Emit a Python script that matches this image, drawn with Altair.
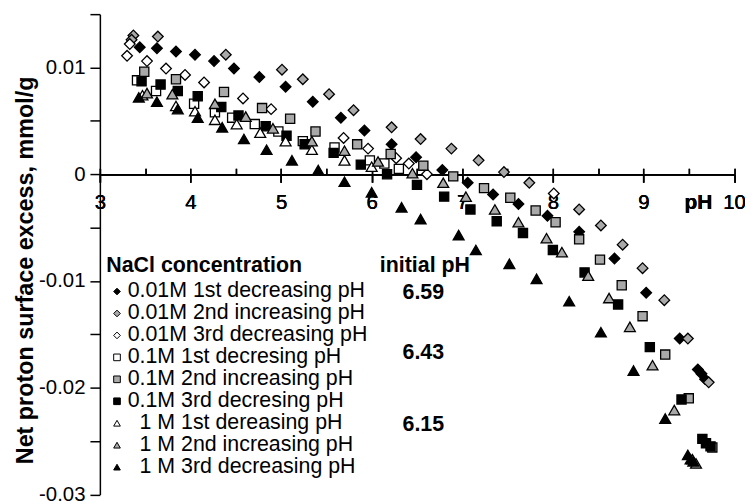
import altair as alt
import pandas as pd

FONT = "Liberation Sans"
IND = "\u200b\u00a0\u00a0"  # indent kept by a zero-width lead character

series_names = [
    "0.01M 1st decreasing pH",
    "0.01M 2nd increasing pH",
    "0.01M 3rd decreasing pH",
    "0.1M 1st decresing pH",
    "0.1M 2nd increasing pH",
    "0.1M 3rd decresing pH",
    IND + "1 M 1st dereasing pH",
    IND + "1 M 2nd increasing pH",
    IND + "1 M 3rd decreasing pH",
]

# 0.01M 1st decreasing (black diamond)
s1_ph = [3.44, 3.63, 3.84, 4.05, 4.26, 4.48, 4.76, 5.05, 5.35, 5.66, 5.92, 6.22, 6.49, 6.78, 7.06,
         7.34, 7.62, 7.94, 8.29, 8.68, 9.03, 9.40, 9.60, 9.64, 9.68]
s1_v = [0.0119, 0.0118, 0.0115, 0.0112, 0.0106, 0.0099, 0.0091, 0.0082, 0.0068, 0.0053, 0.0041, 0.0028,
        0.0016, 0.0004, -0.0008, -0.0019, -0.0028, -0.0039, -0.0054, -0.0079, -0.0111, -0.0154,
        -0.0183, -0.0187, -0.0192]
# 0.01M 2nd increasing (grey diamond)
s2_ph = [3.37, 3.35, 3.64, 4.39, 5.01, 5.24, 5.53, 5.80, 6.22, 6.54, 6.88, 7.18, 7.46, 7.74, 8.29,
         8.53, 8.77, 8.99, 9.23, 9.49, 9.72]
s2_v = [0.0130, 0.0126, 0.0129, 0.0112, 0.0098, 0.0089, 0.0075, 0.0060, 0.0044, 0.0033, 0.0024,
        0.0013, 0.0002, -0.0008, -0.0033, -0.0048, -0.0066, -0.0088, -0.0118, -0.0154, -0.0195]
# 0.01M 3rd decreasing (white diamond)
s3_ph = [3.33, 3.30, 3.52, 3.73, 3.94, 4.15, 4.58, 4.89, 5.69, 5.96, 6.27, 6.41, 6.61, 8.01]
s3_v = [0.0122, 0.0111, 0.0106, 0.0099, 0.0093, 0.0086, 0.0071, 0.0061, 0.0034, 0.0024, 0.0015,
        0.0010, 0.0000, -0.0018]
# 0.1M 1st decreasing (white square)
s4_ph = [3.41, 3.62, 4.04, 4.27, 4.46, 4.71, 4.97, 5.24, 5.59, 5.98, 6.14, 6.30]
s4_v = [0.0088, 0.0078, 0.0066, 0.0058, 0.0053, 0.0047, 0.0040, 0.0031, 0.0025, 0.0013, 0.0010, 0.0005]
# 0.1M 2nd increasing (grey square)
s5_ph = [3.49, 3.84, 4.37, 4.79, 5.10, 5.38, 5.84, 6.21, 6.57, 6.90, 7.24, 7.53, 7.81, 8.03, 8.29,
         8.52, 8.76, 8.99, 9.24, 9.50, 9.76]
s5_v = [0.0096, 0.0089, 0.0077, 0.0062, 0.0052, 0.0040, 0.0028, 0.0019, 0.0008, -0.0002, -0.0013,
        -0.0022, -0.0034, -0.0045, -0.0061, -0.0080, -0.0104, -0.0133, -0.0169, -0.0210, -0.0256]
# 0.1M 3rd decreasing (black square)
s6_ph = [3.46, 3.67, 3.86, 4.08, 4.34, 4.53, 4.83, 5.06, 5.26, 5.58, 5.88, 6.17, 6.50, 6.80, 7.09,
         7.38, 7.67, 8.00, 8.35, 8.72, 9.07, 9.42, 9.65, 9.69, 9.74]
s6_v = [0.0087, 0.0084, 0.0078, 0.0073, 0.0063, 0.0055, 0.0045, 0.0036, 0.0028, 0.0020, 0.0009,
        0.0000, -0.0010, -0.0021, -0.0033, -0.0044, -0.0055, -0.0071, -0.0092, -0.0122, -0.0162,
        -0.0211, -0.0248, -0.0252, -0.0255]
# 1 M 1st decreasing (white triangle)
s7_ph = [3.47, 3.84, 4.05, 4.27, 4.51, 4.77, 5.05, 5.34, 5.70, 6.00]
s7_v = [0.0074, 0.0064, 0.0059, 0.0051, 0.0047, 0.0039, 0.0031, 0.0023, 0.0013, 0.0007]
# 1 M 2nd increasing (grey triangle)
s8_ph = [3.52, 3.80, 4.27, 4.61, 4.91, 5.34, 5.70, 6.07, 6.45, 6.79, 7.04, 7.36, 7.62, 7.93, 8.10,
         8.39, 8.62, 8.85, 9.10, 9.34, 9.54, 9.58]
s8_v = [0.0076, 0.0075, 0.0066, 0.0054, 0.0043, 0.0031, 0.0022, 0.0012, 0.0001, -0.0008, -0.0021,
        -0.0033, -0.0045, -0.0060, -0.0073, -0.0095, -0.0116, -0.0143, -0.0179, -0.0221, -0.0267,
        -0.0271]
# 1 M 3rd decreasing (black triangle)
s9_ph = [3.43, 3.63, 3.86, 4.08, 4.35, 4.59, 4.84, 5.12, 5.41, 5.70, 6.00, 6.33, 6.54, 6.96, 7.15,
         7.52, 7.82, 8.18, 8.53, 8.89, 9.24, 9.49, 9.52, 9.55]
s9_v = [0.0072, 0.0068, 0.0061, 0.0053, 0.0044, 0.0033, 0.0023, 0.0013, 0.0004, -0.0007, -0.0017,
        -0.0031, -0.0042, -0.0057, -0.0071, -0.0084, -0.0098, -0.0119, -0.0148, -0.0184, -0.0229,
        -0.0263, -0.0267, -0.0269]

all_ph = [s1_ph, s2_ph, s3_ph, s4_ph, s5_ph, s6_ph, s7_ph, s8_ph, s9_ph]
all_v = [s1_v, s2_v, s3_v, s4_v, s5_v, s6_v, s7_v, s8_v, s9_v]
groups = ["d", "d", "d", "s", "s", "s", "t", "t", "t"]

# annotation column
init_header = "initial pH"
init_values = ["6.59", "6.43", "6.15"]
init_ph_pos = [6.57, 6.57, 6.57]
init_v_pos = [-0.0111, -0.0168, -0.0235]

# styles
shapes = ["diamond"] * 3 + ["square"] * 3 + ["triangle-up"] * 3
fills = ["black", "#a9a9a9", "white", "white", "#a9a9a9", "black", "white", "#a9a9a9", "black"]
group_sizes = {"d": 115, "s": 85, "t": 120}

rows = []
for name, g, phs, vs in zip(series_names, groups, all_ph, all_v):
    for p, v in zip(phs, vs):
        rows.append({"pH": p, "v": v, "series": name, "grp": g})
df = pd.DataFrame(rows)

W, H = 638.5, 483.5
YMIN, YMAX = -0.03, 0.015
zero_from_top = H * YMAX / (YMAX - YMIN)

xscale = alt.Scale(domain=[3, 10], nice=False, zero=False)
yscale = alt.Scale(domain=[YMIN, YMAX], nice=False, zero=False)

y_ticks = [-0.03, -0.025, -0.02, -0.015, -0.01, -0.005, 0, 0.005, 0.01, 0.015]
x_major = [3, 4, 5, 6, 7, 8, 9, 10]
x_minor = [3, 3.5, 4, 4.5, 5, 5.5, 6, 6.5, 7, 7.5, 8, 8.5, 9, 9.5, 10]

yaxis = alt.Axis(
    orient="left",
    values=y_ticks,
    labelExpr="abs(round(datum.value*200)) % 2 == 1 ? '' : (datum.value == 0 ? '0' : (datum.value < 0 ? '-' : '') + format(abs(datum.value), '.2f'))",
    tickSize=10, labelPadding=5, labelFontSize=20.5, labelOverlap=False,
    title="Net proton surface excess, mmol/g", titleFontSize=23.5, titleFontWeight="bold",
    titleX=-74.5, titleY=257.5, titleBaseline="middle", titleAlign="center",
)

xaxis_bottom = alt.Axis(
    orient="bottom", offset=-(H - zero_from_top), values=x_major, format="d",
    tickSize=8, labelPadding=11, labelFontSize=20.5, labelFlush=False, labelOverlap=False,
    title="pH", titleX=602, titleY=29, titleBaseline="middle", titleAlign="center",
    titleFontSize=21, titleFontWeight="bold",
)
xaxis_top = alt.Axis(
    orient="top", offset=-zero_from_top, values=x_minor, tickSize=6, labels=False, title="",
)

leg = alt.Legend(
    title="NaCl concentration", orient="none", legendX=6.5, legendY=243,
    labelFont=FONT, titleFont=FONT, labelFontSize=21.5, titleFontSize=21.5,
    titleFontWeight="bold", labelColor="black", titleColor="black",
    labelLimit=400, titleLimit=400, rowPadding=-0.9, symbolOffset=0, labelOffset=0,
    padding=0, titlePadding=4, symbolSize=45, symbolStrokeWidth=1,
)

shape_enc = alt.Shape("series:N", scale=alt.Scale(domain=series_names, range=shapes), legend=leg)
fill_enc = alt.Fill("series:N", scale=alt.Scale(domain=series_names, range=fills), legend=leg)


def point_layer(g):
    return alt.Chart(df).transform_filter(alt.datum.grp == g).mark_point(
        filled=True, opacity=1, size=group_sizes[g], stroke="black", strokeWidth=1.3
    ).encode(
        x=alt.X("pH:Q", scale=xscale, axis=xaxis_bottom),
        y=alt.Y("v:Q", scale=yscale, axis=yaxis),
        shape=shape_enc,
        fill=fill_enc,
    )


header_df = pd.DataFrame({"pH": [6.09], "v": [-0.0086], "label": [init_header]})
header = alt.Chart(header_df).mark_text(
    align="left", baseline="middle", font=FONT, fontSize=21.5, fontWeight="bold", color="black"
).encode(
    x=alt.X("pH:Q", scale=xscale, axis=xaxis_top),
    y=alt.Y("v:Q", scale=yscale, axis=yaxis),
    text="label:N",
)

vals_df = pd.DataFrame({"pH": init_ph_pos, "v": init_v_pos, "label": init_values})
vals = alt.Chart(vals_df).mark_text(
    align="center", baseline="middle", font=FONT, fontSize=21.5, fontWeight="bold", color="black"
).encode(
    x=alt.X("pH:Q", scale=xscale, axis=xaxis_top),
    y=alt.Y("v:Q", scale=yscale, axis=yaxis),
    text="label:N",
)

chart = alt.layer(point_layer("d"), point_layer("s"), point_layer("t"), header, vals).resolve_axis(
    x="independent"
).properties(
    width=W, height=H,
    autosize=alt.AutoSizeParams(type="none"),
    padding={"left": 92.5, "top": 4.5, "right": 11, "bottom": 10},
).configure_view(stroke=None).configure_axis(
    labelFont=FONT, titleFont=FONT, labelColor="black", titleColor="black",
    domainColor="black", tickColor="black", domainWidth=1.5, tickWidth=1.5, grid=False,
)

chart.save("out.html", embed_options={"renderer": "svg", "actions": False})
